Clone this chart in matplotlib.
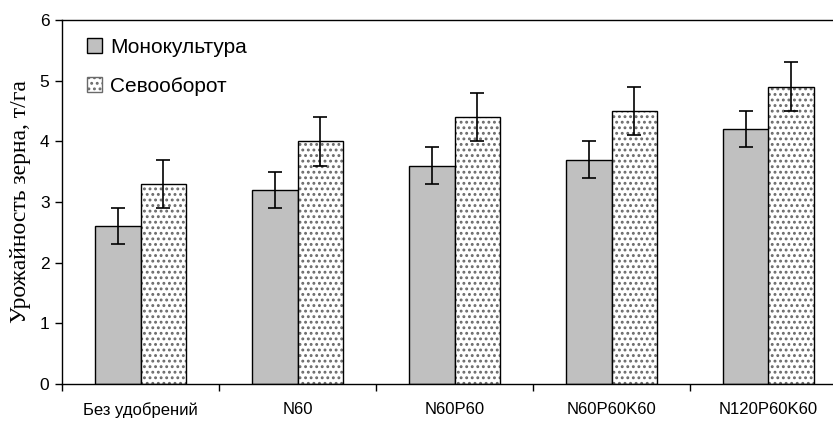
import matplotlib
matplotlib.use('Agg')
import matplotlib.pyplot as plt
from matplotlib.patches import Patch
import numpy as np

categories = ['Без удобрений', 'N60', 'N60P60', 'N60P60K60', 'N120P60K60']
mono = [2.6, 3.2, 3.6, 3.7, 4.2]
mono_err = [0.3, 0.3, 0.3, 0.3, 0.3]
sevo = [3.3, 4.0, 4.4, 4.5, 4.9]
sevo_err = [0.4, 0.4, 0.4, 0.4, 0.4]

plt.rcParams['font.family'] = ['Liberation Sans', 'DejaVu Sans']
plt.rcParams['hatch.linewidth'] = 1.3

fig = plt.figure(figsize=(8.33, 4.24), dpi=100)
# axes extends a bit past the right edge like in the source picture
ax = fig.add_axes([62 / 833, 40 / 424, 785 / 833, 364 / 424])

x = np.arange(len(categories))
w = 0.29

ax.bar(x - w / 2, mono, w, color='#c0c0c0', edgecolor='black', linewidth=1.0, zorder=2)
# dotted fill: hatch in grey, then black outline on top
ax.bar(x + w / 2, sevo, w, color='white', edgecolor='#6a6a6a', hatch='...', linewidth=0, zorder=2)
ax.bar(x + w / 2, sevo, w, color='none', edgecolor='black', linewidth=1.0, zorder=3)

ax.errorbar(x - w / 2, mono, yerr=mono_err, fmt='none', ecolor='black', elinewidth=1.2,
            capsize=5, capthick=1.2, zorder=4)
ax.errorbar(x + w / 2, sevo, yerr=sevo_err, fmt='none', ecolor='black', elinewidth=1.2,
            capsize=5, capthick=1.2, zorder=4)

ax.set_xlim(-0.5, len(categories) - 0.5)
ax.set_ylim(0, 6)
ax.set_yticks(range(0, 7))
ax.tick_params(axis='y', labelsize=12.5, length=5, width=1, pad=4)

ax.set_xticks(x)
ax.set_xticklabels(categories, fontsize=12)
ax.set_xticks(np.arange(len(categories) + 1) - 0.5, minor=True)
ax.tick_params(axis='x', which='major', length=0, pad=13)
ax.tick_params(axis='x', which='minor', length=5, width=1)

for s in ['left', 'bottom', 'top']:
    ax.spines[s].set_linewidth(1.0)
ax.spines['right'].set_visible(False)

ax.set_ylabel('Урожайность зерна, т/га', family=['Liberation Serif', 'DejaVu Serif'],
              fontsize=17, labelpad=6)

handles = [Patch(facecolor='#c0c0c0', edgecolor='black', linewidth=1.0),
           Patch(facecolor='white', edgecolor='#6a6a6a', hatch='...', linewidth=1.0)]
ax.legend(handles, ['Монокультура', 'Севооборот'], loc='upper left', bbox_to_anchor=(0.0, 1.02),
          frameon=False, fontsize=15, handlelength=0.7, handleheight=0.7, handletextpad=0.4,
          labelspacing=0.95, borderaxespad=0.8)

fig.savefig('out.png', dpi=100)
